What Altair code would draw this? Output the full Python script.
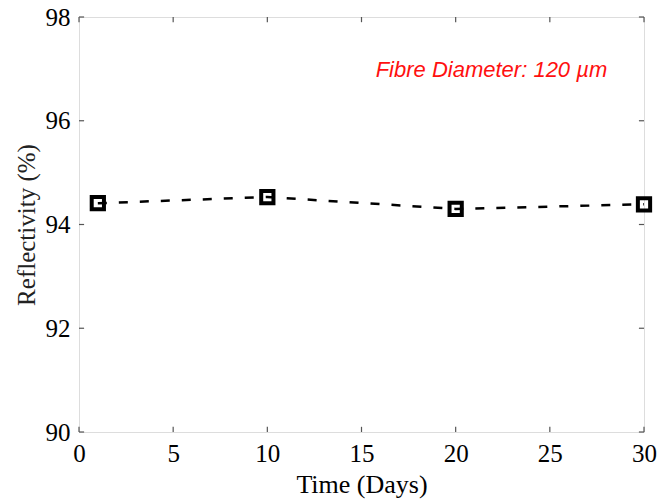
import altair as alt
import pandas as pd

days = [1, 10, 20, 30]
reflectivity = [94.41, 94.53, 94.30, 94.39]

x_ticks = [0, 5, 10, 15, 20, 25, 30]
y_ticks = [90, 92, 94, 96, 98]

note_text = ["Fibre Diameter: 120 µm"]
note_x = [21.9]
note_y = [96.98]

df = pd.DataFrame({"day": days, "refl": reflectivity})
xt = pd.DataFrame({"x": x_ticks})
yt = pd.DataFrame({"y": y_ticks})
note = pd.DataFrame({"t": note_text, "x": note_x, "y": note_y})

xs = alt.Scale(domain=[0, 30], nice=False, zero=False)
ys = alt.Scale(domain=[90, 98], nice=False, zero=False)

FONT = "Liberation Serif"

line = alt.Chart(df).mark_line(color="black", strokeDash=[9, 12], strokeWidth=2.5).encode(
    x=alt.X("day:Q", scale=xs, title="Time (Days)",
            axis=alt.Axis(values=x_ticks, tickSize=0, domain=False, grid=False,
                          labelFlush=False, labelOverlap=False,
                          labelFont=FONT, labelFontSize=25, labelColor="black",
                          labelPadding=9, titleFont=FONT, titleFontSize=26,
                          titleFontWeight="normal", titleColor="black", titlePadding=5)),
    y=alt.Y("refl:Q", scale=ys, title="Reflectivity (%)",
            axis=alt.Axis(values=y_ticks, tickSize=0, domain=False, grid=False,
                          labelFlush=False, labelOverlap=False,
                          labelFont=FONT, labelFontSize=25, labelColor="black",
                          labelPadding=9, titleFont=FONT, titleFontSize=25,
                          titleFontWeight="normal", titleColor="#222222", titlePadding=6)),
)

pts = alt.Chart(df).mark_square(size=150, filled=False, color="black", opacity=1,
                                strokeWidth=4).encode(
    x=alt.X("day:Q", scale=xs), y=alt.Y("refl:Q", scale=ys)
)

tick_color = "#555555"
bottom = alt.Chart(xt).mark_rule(color=tick_color, strokeWidth=1.2).encode(
    x=alt.X("x:Q", scale=xs), y=alt.datum(90, scale=ys), y2=alt.datum(90.1)
)
top = alt.Chart(xt).mark_rule(color=tick_color, strokeWidth=1.2).encode(
    x=alt.X("x:Q", scale=xs), y=alt.datum(98, scale=ys), y2=alt.datum(97.9)
)
left = alt.Chart(yt).mark_rule(color=tick_color, strokeWidth=1.2).encode(
    y=alt.Y("y:Q", scale=ys), x=alt.datum(0, scale=xs), x2=alt.datum(0.27)
)
right = alt.Chart(yt).mark_rule(color=tick_color, strokeWidth=1.2).encode(
    y=alt.Y("y:Q", scale=ys), x=alt.datum(30, scale=xs), x2=alt.datum(29.73)
)

txt = alt.Chart(note).mark_text(color="#ff1010", font="Liberation Sans", fontStyle="italic",
                                fontSize=22, align="center", baseline="middle").encode(
    x=alt.X("x:Q", scale=xs), y=alt.Y("y:Q", scale=ys), text="t:N"
)

chart = alt.layer(bottom, top, left, right, line, pts, txt).properties(
    width=565, height=415,
    autosize=alt.AutoSizeParams(type="none"),
    padding={"left": 79, "top": 17, "right": 15, "bottom": 67},
).configure_view(stroke="#555555", strokeWidth=1.5).configure(background="white")

chart.save("out.html", embed_options={"renderer": "svg", "actions": False})
